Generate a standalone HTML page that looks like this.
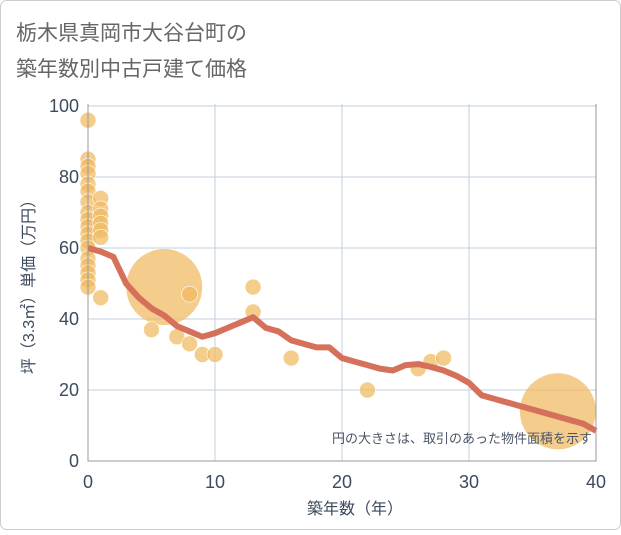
<!DOCTYPE html>
<html><head><meta charset="utf-8"><style>
body{margin:0;background:#fff;font-family:"Liberation Sans","Noto Sans CJK JP",sans-serif;}
#wrap{position:relative;width:621px;height:530px;}
</style></head><body>
<div id="wrap">
<svg id="chart" width="621" height="530" xmlns="http://www.w3.org/2000/svg">
<rect x="0.5" y="0.5" width="620" height="529" fill="#fff" stroke="#ccc" rx="6"/>
<text x="16" y="40" font-size="21" fill="#666" font-family="Liberation Sans,Noto Sans CJK JP,sans-serif">栃木県真岡市大谷台町の</text>
<text x="16" y="76" font-size="21" fill="#666" font-family="Liberation Sans,Noto Sans CJK JP,sans-serif">築年数別中古戸建て価格</text>
<g id="grid"></g>
<g id="bubbles"></g>
<g id="line"></g>
<g id="axes"></g>
<text x="592" y="443" font-size="13" fill="#4a5668" text-anchor="end" font-family="Liberation Sans,Noto Sans CJK JP,sans-serif">円の大きさは、取引のあった物件面積を示す</text>
<text x="355" y="514" font-size="16" fill="#3c4b5e" text-anchor="middle" font-family="Liberation Sans,Noto Sans CJK JP,sans-serif">築年数（年）</text>
<text transform="translate(34,283) rotate(-90)" font-size="16" fill="#3c4b5e" text-anchor="middle" font-family="Liberation Sans,Noto Sans CJK JP,sans-serif">坪（3.3㎡）単価（万円）</text>
</svg>
</div>
<script>
const xTicks=[0,10,20,30,40];
const yTicks=[0,20,40,60,80,100];
const ptYears=[0,0,0,0,0,0,0,0,0,0,0,0,0,0,0,0,0,0,1,1,1,1,1,1,1,6,8,5,7,8,9,10,13,13,16,22,26,27,28,37];
const ptPrices=[96,85,83,81,78,76,73,70,68,66,64,62,60,57,55,53,51,49,74,71,69,67,65,63,46,49,47,37,35,33,30,30,49,42,29,20,26,28,29,14];
const ptSizes=[8,8,8,8,8,8,8,8,8,8,8,8,8,8,8,8,8,8,8,8,8,8,8,8,8,38,8,8,8,8,8,8,8,8,8,8,8,8,8,38];
const lineYears=[0,1,2,3,4,5,6,7,8,9,10,11,12,13,14,15,16,17,18,19,20,21,22,23,24,25,26,27,28,29,30,31,32,33,34,35,36,37,38,39,40];
const linePrices=[60,59,57.5,50,46,43,41,38,36.5,35,36,37.5,39,40.5,37.5,36.5,34,33,32,32,29,28,27,26,25.5,27,27.3,26.5,25.5,24,22,18.5,17.5,16.5,15.5,14.5,13.5,12.5,11.5,10.5,8.5];
const X0=88,X1=596,Y0=461,Y1=106,TOP=104;
const xs=v=>X0+(X1-X0)*v/40, ys=v=>Y0+(Y1-Y0)*v/100;
const NS="http://www.w3.org/2000/svg";
function mk(t,a,p){const e=document.createElementNS(NS,t);for(const k in a)e.setAttribute(k,a[k]);p.appendChild(e);return e;}
const grid=document.getElementById('grid'),axes=document.getElementById('axes');
xTicks.forEach(v=>{const l=mk('line',{x1:xs(v),x2:xs(v),y1:TOP,y2:Y0,stroke:'#c3cfdd'},grid);


const t=mk('text',{x:xs(v),y:488,'font-size':18,fill:'#3c4b5e','text-anchor':'middle'},axes);t.textContent=v;

});
yTicks.forEach(v=>{const l=mk('line',{x1:X0,x2:X1,y1:ys(v),y2:ys(v),stroke:'#c3cfdd'},grid);


const t=mk('text',{x:79,y:ys(v)+6,'font-size':18,fill:'#3c4b5e','text-anchor':'end'},axes);t.textContent=v;

});
const ax=mk('path',{d:`M${X0} ${TOP}V${Y0}H${X1}V${TOP}`,fill:'none',stroke:'#999'},axes);


const bg=document.getElementById('bubbles');
ptYears.forEach((y,i)=>{const c=mk('circle',{cx:xs(y),cy:ys(ptPrices[i]),r:ptSizes[i],fill:'#f0b860','fill-opacity':0.72,stroke:'#fff','stroke-width':ptSizes[i]>10?0:0.6},bg);

});
const pl=mk('polyline',{points:lineYears.map((y,i)=>xs(y)+','+ys(linePrices[i])).join(' '),fill:'none',stroke:'#d5705a','stroke-width':6,'stroke-linejoin':'round'},document.getElementById('line'));


</script>
</body></html>
